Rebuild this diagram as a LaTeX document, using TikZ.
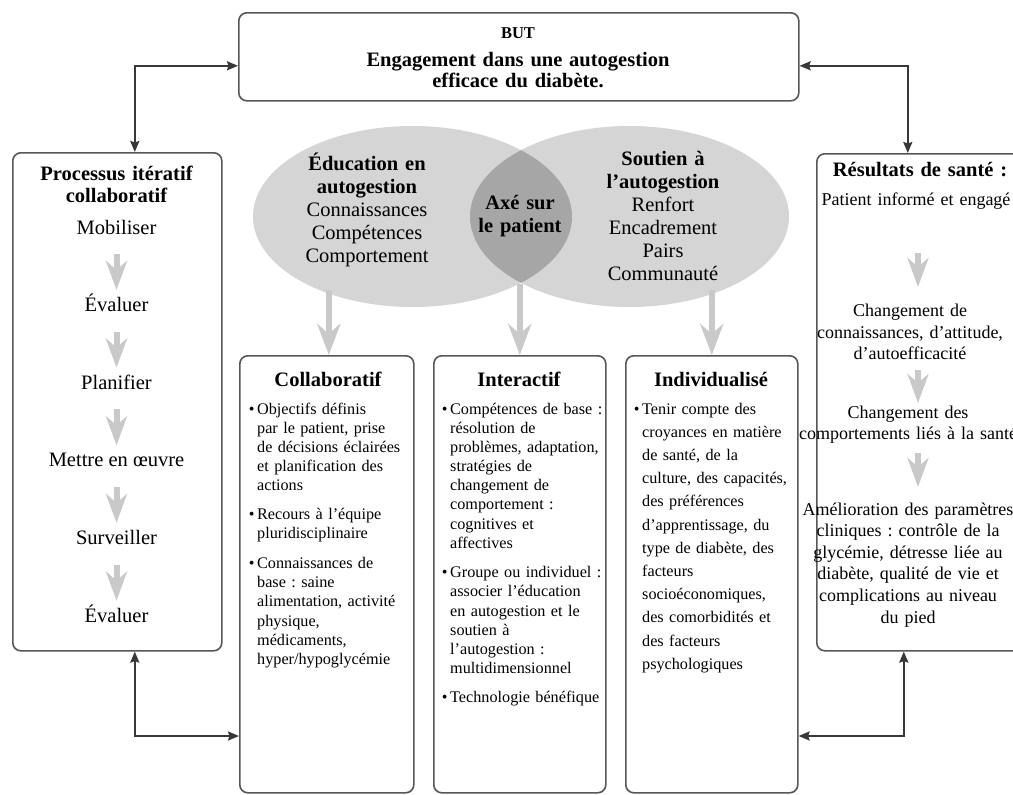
\documentclass[tikz,border=0pt]{standalone}
\usepackage{fontspec}
\setmainfont{Liberation Serif}
\usetikzlibrary{arrows.meta,shapes.geometric}

\definecolor{framegray}{HTML}{575757}
\definecolor{linkgray}{HTML}{383838}
\definecolor{flowgray}{HTML}{C9C9C9}
\definecolor{bubblegray}{HTML}{D5D5D5}
\definecolor{lensgray}{HTML}{A6A6A6}

\newcommand{\setfs}[2]{\fontsize{#1}{#2}\selectfont}
% hanging bullet in front of the first line of an item
\newcommand{\itemdot}{\llap{•\hspace{2.6pt}}}
\frenchspacing

\begin{document}
\begin{tikzpicture}[x=1pt,y=-1pt,
  panel/.style={draw=framegray, line width=1.6pt, rounded corners=8pt,
    inner sep=0pt, anchor=north west, fill=white},
  link/.style={draw=linkgray, line width=2pt,
    {Stealth[length=11pt,width=9pt,inset=1.5pt]}-{Stealth[length=11pt,width=9pt,inset=1.5pt]}},
  flow/.style={draw=flowgray, line width=6pt,
    -{Stealth[length=29pt,width=21pt,inset=9pt]}},
  bigflow/.style={draw=flowgray, line width=6.5pt,
    -{Stealth[length=31pt,width=23pt,inset=10pt]}},
  headtext/.style={font=\bfseries\setfs{20.5}{22}, inner sep=0pt, anchor=base,
    text width=#1, align=center},
  bubbletext/.style={font=\setfs{20.5}{23}, inner sep=0pt, anchor=base,
    text width=#1, align=center},
  steptext/.style={font=\setfs{20.5}{23}, inner sep=0pt, anchor=base},
  outtext/.style={font=\setfs{18}{21.6}, inner sep=0pt, anchor=base,
    text width=240pt, align=center},
  bullettext/.style={font=\setfs{16.2}{19.17}, inner sep=0pt, anchor=base west,
    text width=190pt, align=left},
  widebullettext/.style={bullettext, font=\setfs{16.2}{23.2}}
]
\useasboundingbox (0,0) rectangle (1013,795);
\fill[white] (0,0) rectangle (1013,795);

% ---------- goal ----------
\node[panel, minimum width=560pt, minimum height=88pt] (goal) at (238,12) {};
\node[font=\bfseries\setfs{16.5}{18}, inner sep=0pt, anchor=base] (goalhead) at (518,38) {BUT};
\node[headtext=330pt, font=\bfseries\setfs{20.5}{21}] (goaltext) at (518,66)
  {Engagement dans une autogestion\\efficace du diabète.};

% ---------- overlapping ellipses ----------
\node[ellipse, fill=bubblegray, minimum width=319pt, minimum height=181pt, inner sep=0pt] (edu) at (412.5,216.5) {};
\node[ellipse, fill=bubblegray, minimum width=319pt, minimum height=181pt, inner sep=0pt] (sup) at (629.5,216.5) {};
\begin{scope}
  \clip (412.5,216.5) ellipse [x radius=159.5, y radius=90.5];
  \fill[lensgray] (629.5,216.5) ellipse [x radius=159.5, y radius=90.5];
\end{scope}
\node[bubbletext=180pt] (edutext) at (367,170)
  {\textbf{Éducation en}\\\textbf{autogestion}\\Connaissances\\Compétences\\Comportement};
\node[bubbletext=100pt] (coretext) at (520,209)
  {\textbf{Axé sur}\\\textbf{le patient}};
\node[bubbletext=160pt] (suptext) at (663,165)
  {\textbf{Soutien à}\\\textbf{l’autogestion}\\Renfort\\Encadrement\\Pairs\\Communauté};

% ---------- process column ----------
\node[panel, minimum width=209pt, minimum height=498pt] (proc) at (12,152) {};
\node[headtext=200pt] (proctitle) at (116.5,180.7) {Processus itératif\\collaboratif};
\foreach \lbl [count=\i] in {Mobiliser,Évaluer,Planifier,Mettre en œuvre,Surveiller,Évaluer}
  \node[steptext] (s\i) at (116.5,{234+(\i-1)*77.66}) {\lbl};
\foreach \i/\j in {1/2,2/3,3/4,4/5,5/6}
  \draw[flow] ([yshift=-20pt]s\i.base) -- ([yshift=21.66pt]s\j.base);

% ---------- three care boxes ----------
\node[panel, minimum width=174pt, minimum height=437pt] (collab) at (239,355) {};
\node[panel, minimum width=172pt, minimum height=437pt] (inter) at (433,355) {};
\node[panel, minimum width=172pt, minimum height=437pt] (indiv) at (625,355) {};

\coordinate (ftop) at (0,290);
\coordinate (fmid) at (0,284);
\draw[bigflow] ([xshift=2pt]collab.north |- ftop) -- ([xshift=2pt]collab.north);
\draw[bigflow] (inter.north |- fmid) -- (inter.north);
\draw[bigflow] (indiv.north |- ftop) -- (indiv.north);

\node[headtext=170pt] (collabtitle) at (328,386) {Collaboratif};
\node[headtext=170pt] (intertitle) at (519,386) {Interactif};
\node[headtext=170pt] (indivtitle) at (711,386) {Individualisé};

\node[bullettext] (c1) at (257,414)
  {\itemdot Objectifs définis\\par le patient, prise\\de décisions éclairées\\et planification des\\actions};
\node[bullettext] (c2) at (257,519.5)
  {\itemdot Recours à l’équipe\\pluridisciplinaire};
\node[bullettext] (c3) at (257,568.5)
  {\itemdot Connaissances de\\base : saine\\alimentation, activité\\physique,\\médicaments,\\hyper/hypoglycémie};

\node[bullettext] (i1) at (450,414)
  {\itemdot Compétences de base :\\résolution de\\problèmes, adaptation,\\stratégies de\\changement de\\comportement :\\cognitives et\\affectives};
\node[bullettext] (i2) at (450,577.7)
  {\itemdot Groupe ou individuel :\\associer l’éducation\\en autogestion et le\\soutien à\\l’autogestion :\\multidimensionnel};
\node[bullettext] (i3) at (450,702) {\itemdot Technologie bénéfique};

\node[widebullettext] (n1) at (642,414)
  {\itemdot Tenir compte des\\croyances en matière\\de santé, de la\\culture, des capacités,\\des préférences\\d’apprentissage, du\\type de diabète, des\\facteurs\\socioéconomiques,\\des comorbidités et\\des facteurs\\psychologiques};

% ---------- outcomes column ----------
\node[panel, minimum width=206pt, minimum height=497pt] (outc) at (816,153) {};
\node[headtext=220pt] (outctitle) at (920,176.7) {Résultats de santé :};
\node[outtext] (r1) at (916,205) {Patient informé et engagé};
\node[outtext] (r2) at (910,316.7) {Changement de\\connaissances, d’attitude,\\d’autoefficacité};
\node[outtext] (r3) at (908,418) {Changement des\\comportements liés à la santé};
\node[outtext] (r4) at (908,515)
  {Amélioration des paramètres\\cliniques : contrôle de la\\glycémie, détresse liée au\\diabète, qualité de vie et\\complications au niveau\\du pied};
\draw[flow] ([xshift=2pt,yshift=-48pt]r1.base) -- ([xshift=8pt,yshift=29.7pt]r2.base);
\draw[flow] ([xshift=8pt,yshift=-53.3pt]r2.base) -- ([xshift=10pt,yshift=15pt]r3.base);
\draw[flow] ([xshift=10pt,yshift=-35pt]r3.base) -- ([xshift=10pt,yshift=28pt]r4.base);

% ---------- feedback links ----------
\coordinate (loop) at (0,736);
\draw[link] ([yshift=-9pt]goal.west) -| ([xshift=17.5pt]proc.north);
\draw[link] ([yshift=-9pt]goal.east) -| ([xshift=-12pt]outc.north);
\draw[link] ([xshift=17.5pt]proc.south) |- (collab.west |- loop);
\draw[link] ([xshift=-16pt]outc.south) |- (indiv.east |- loop);
\end{tikzpicture}
\end{document}
